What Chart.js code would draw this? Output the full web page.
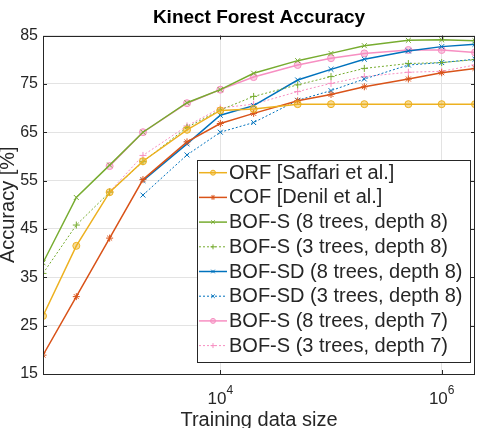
<!DOCTYPE html>
<html>
<head>
<meta charset="utf-8">
<script src="https://cdn.jsdelivr.net/npm/chart.js@4.4.0/dist/chart.umd.min.js"></script>
<style>
  html, body { margin: 0; padding: 0; background: #fff; }
</style>
</head>
<body>
<canvas id="chart" width="481" height="428"></canvas>
<script>
const chartTitle = "Kinect Forest Accuracy";
const xTitle = "Training data size";
const yTitle = "Accuracy [%]";

// training data sizes (x) shared by all series
const sizes = [250, 500, 1000, 2000, 5000, 1e4, 2e4, 5e4, 1e5, 2e5, 5e5, 1e6, 2e6];
const xTickExps = [4, 6];
const yTicks = [15, 25, 35, 45, 55, 65, 75, 85];

const labels = [
  "ORF [Saffari et al.]",
  "COF [Denil et al.]",
  "BOF-S (8 trees, depth 8)",
  "BOF-S (3 trees, depth 8)",
  "BOF-SD (8 trees, depth 8)",
  "BOF-SD (3 trees, depth 8)",
  "BOF-S (8 trees, depth 7)",
  "BOF-S (3 trees, depth 7)"
];

const orf     = [27.0, 41.5, 52.6, 59.0, 65.5, 69.5, 69.8, 70.8, 70.8, 70.8, 70.8, 70.8, 70.8];
const cof     = [18.9, 31.0, 43.1, 55.2, 63.0, 66.8, 68.9, 71.5, 72.8, 74.4, 76.0, 77.3, 78.2];
const bofS88  = [38.0, 51.5, 58.2, 65.0, 71.1, 73.8, 77.2, 79.8, 81.3, 82.9, 84.0, 84.1, 83.9];
const bofS38  = [35.8, 45.8, 52.6, 58.9, 66.0, 69.6, 72.4, 74.8, 76.5, 78.2, 79.2, 79.4, 80.0];
const bofSD88 = [null, null, null, 55.0, 62.6, 68.5, 70.5, 75.8, 78.0, 80.1, 81.8, 82.7, 83.2];
const bofSD38 = [null, null, null, 52.0, 60.3, 65.0, 67.0, 71.6, 73.6, 76.0, 78.9, 79.4, 80.1];
const bofS87  = [null, null, 58.0, 65.0, 71.0, 73.8, 76.4, 78.9, 80.3, 81.3, 82.0, 82.0, 81.5];
const bofS37  = [null, null, 52.7, 60.2, 66.3, 70.0, 70.8, 73.4, 75.1, 76.5, 77.4, 77.6, 78.9];

const values = [orf, cof, bofS88, bofS38, bofSD88, bofSD38, bofS87, bofS37];
const colors = ["#EDB120", "#D95319", "#77AC30", "#77AC30", "#0072BD", "#0072BD", "#F78FC2", "#F78FC2"];
const markers = ["circle", "star", "crossRot", "cross", "crossRot", "crossRot", "circle", "cross"];
const dotted = [false, false, false, true, false, true, false, true];

function toPoints(vals) {
  const pts = [];
  vals.forEach((v, i) => {
    if (v !== null) pts.push({ x: sizes[i], y: v });
  });
  return pts;
}

function fade(hex, a) {
  const n = parseInt(hex.slice(1), 16);
  return "rgba(" + (n >> 16) + "," + ((n >> 8) & 255) + "," + (n & 255) + "," + a + ")";
}

const datasets = values.map((vals, i) => ({
  label: labels[i],
  data: toPoints(vals),
  borderColor: colors[i],
  backgroundColor: fade(colors[i], 0.45),
  borderWidth: dotted[i] ? 1 : 1.5,
  borderDash: dotted[i] ? [2, 2] : [],
  pointStyle: markers[i],
  pointRadius: 3.5,
  pointBorderWidth: 1,
  pointBorderColor: colors[i],
  pointBackgroundColor: fade(colors[i], 0.45),
  tension: 0,
  fill: false
}));

const font = '"Liberation Sans", Arial, Helvetica, sans-serif';
const ink = "#262626";

// box, inward ticks, superscript tick labels, title and the legend
const frame = {
  id: "frame",
  afterDraw(chart) {
    const { ctx, chartArea: a, scales } = chart;
    ctx.save();

    ctx.fillStyle = "#000";
    ctx.font = "bold 19px " + font;
    ctx.textAlign = "center";
    ctx.textBaseline = "middle";
    ctx.fillText(chartTitle, (a.left + a.right) / 2, 17.5);

    ctx.strokeStyle = ink;
    ctx.lineWidth = 1;
    ctx.strokeRect(Math.round(a.left) + 0.5, Math.round(a.top) + 0.5,
      Math.round(a.right - a.left) - 1, Math.round(a.bottom - a.top) - 1);

    ctx.beginPath();
    yTicks.forEach((v) => {
      const y = Math.round(scales.y.getPixelForValue(v)) + 0.5;
      ctx.moveTo(a.left, y); ctx.lineTo(a.left + 4, y);
      ctx.moveTo(a.right, y); ctx.lineTo(a.right - 4, y);
    });
    xTickExps.forEach((e) => {
      const x = Math.round(scales.x.getPixelForValue(Math.pow(10, e))) + 0.5;
      ctx.moveTo(x, a.bottom); ctx.lineTo(x, a.bottom - 4);
      ctx.moveTo(x, a.top); ctx.lineTo(x, a.top + 4);
    });
    ctx.stroke();

    ctx.fillStyle = ink;
    ctx.textAlign = "left";
    ctx.textBaseline = "alphabetic";
    xTickExps.forEach((e) => {
      const x = scales.x.getPixelForValue(Math.pow(10, e));
      ctx.font = "17px " + font;
      const wBase = ctx.measureText("10").width;
      ctx.font = "12px " + font;
      const wExp = ctx.measureText(String(e)).width;
      const start = x - (wBase + wExp) / 2;
      ctx.font = "17px " + font;
      ctx.fillText("10", start, 404);
      ctx.font = "12px " + font;
      ctx.fillText(String(e), start + wBase, 394);
    });

    // legend
    const lx = 197, ly = 160, lw = 273, lh = 202, step = 24.7;
    ctx.fillStyle = "#fff";
    ctx.fillRect(lx, ly, lw, lh);
    ctx.strokeStyle = ink;
    ctx.lineWidth = 1;
    ctx.strokeRect(lx + 0.5, ly + 0.5, lw, lh);
    chart.data.datasets.forEach((ds, i) => {
      const y = ly + 12.7 + i * step;
      ctx.save();
      ctx.strokeStyle = ds.borderColor;
      ctx.lineWidth = ds.borderWidth;
      ctx.setLineDash(ds.borderDash);
      ctx.beginPath();
      ctx.moveTo(lx + 2, y); ctx.lineTo(lx + 30, y);
      ctx.stroke();
      ctx.setLineDash([]);
      ctx.fillStyle = ds.pointBackgroundColor;
      ctx.strokeStyle = ds.pointBorderColor;
      ctx.lineWidth = 1;
      Chart.helpers.drawPoint(ctx, { pointStyle: ds.pointStyle, radius: 2.5, rotation: 0, borderWidth: 1 }, lx + 16, y);
      ctx.restore();
      ctx.fillStyle = ink;
      ctx.font = "20px " + font;
      ctx.textAlign = "left";
      ctx.textBaseline = "middle";
      ctx.fillText(ds.label, lx + 32, y + 0.5);
    });

    ctx.restore();
  }
};

new Chart(document.getElementById("chart").getContext("2d"), {
  type: "line",
  data: { datasets: datasets },
  options: {
    responsive: false,
    animation: false,
    layout: { padding: { top: 35.5, right: 6, left: 0, bottom: 0 } },
    plugins: {
      legend: { display: false },
      title: { display: false },
      tooltip: { enabled: false }
    },
    scales: {
      x: {
        type: "logarithmic",
        min: 250,
        max: 2e6,
        afterFit: (s) => { s.height = 54; },
        afterBuildTicks: (s) => { s.ticks = xTickExps.map((e) => ({ value: Math.pow(10, e) })); },
        ticks: { display: false },
        grid: { color: "#e3e3e3", drawTicks: false },
        border: { display: false },
        title: {
          display: true,
          text: xTitle,
          color: ink,
          font: { family: font, size: 20 },
          padding: { top: 0, bottom: -4.5 }
        }
      },
      y: {
        min: 15,
        max: 85,
        afterFit: (s) => { s.width = 43; },
        afterBuildTicks: (s) => { s.ticks = yTicks.map((v) => ({ value: v })); },
        ticks: { color: ink, font: { family: font, size: 16 }, padding: 5 },
        grid: { color: "#e3e3e3", drawTicks: false },
        border: { display: false },
        title: {
          display: true,
          text: yTitle,
          color: ink,
          font: { family: font, size: 20 },
          padding: { top: -3.4, bottom: 0 }
        }
      }
    }
  },
  plugins: [frame]
});
</script>
</body>
</html>
